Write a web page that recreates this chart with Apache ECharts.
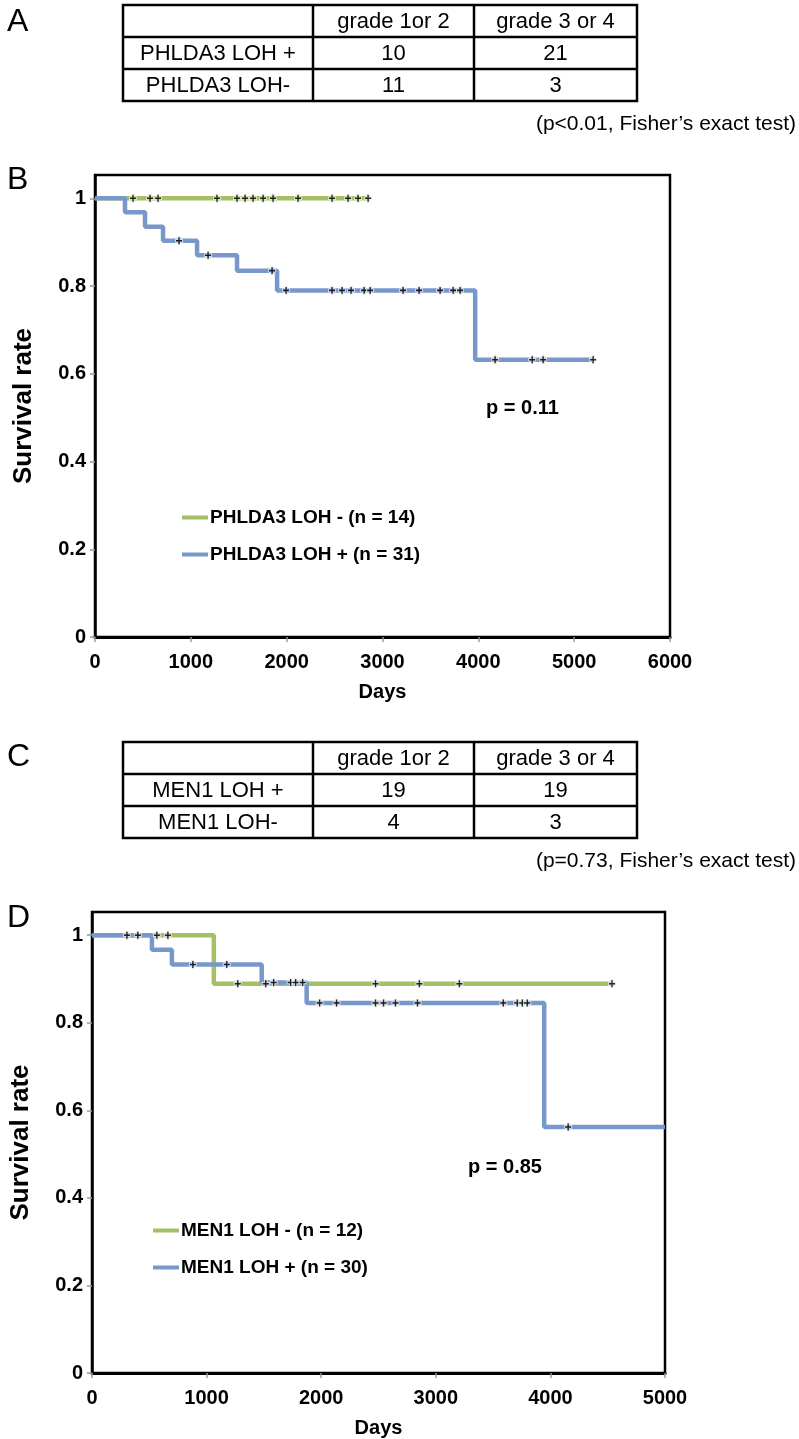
<!DOCTYPE html>
<html><head><meta charset="utf-8">
<script src="https://cdn.jsdelivr.net/npm/echarts@6/dist/echarts.min.js"></script>
<style>html,body{margin:0;padding:0;background:#fff}#c{width:799px;height:1439px}</style>
</head><body><div id="c"></div>
<script>
// ---------- data ----------
const tableAHeader = ['', 'grade 1or 2', 'grade 3 or 4'];
const tableARows = [['PHLDA3 LOH +', '10', '21'], ['PHLDA3 LOH-', '11', '3']];
const tableANote = '(p<0.01, Fisher\u2019s exact test)';
const tableCHeader = ['', 'grade 1or 2', 'grade 3 or 4'];
const tableCRows = [['MEN1 LOH +', '19', '19'], ['MEN1 LOH-', '4', '3']];
const tableCNote = '(p=0.73, Fisher\u2019s exact test)';

const bXTicks = [0, 1000, 2000, 3000, 4000, 5000, 6000];
const dXTicks = [0, 1000, 2000, 3000, 4000, 5000];
const yTicks = [0, 0.2, 0.4, 0.6, 0.8, 1];

const bMinusName = 'PHLDA3 LOH - (n = 14)';
const bMinusDays = [0, 2850];
const bMinusSurv = [1, 1];
const bMinusCensor = [397, 574, 658, 1273, 1482, 1566, 1649, 1754, 1858, 2119, 2474, 2641, 2745, 2850];

const bPlusName = 'PHLDA3 LOH + (n = 31)';
const bPlusDays = [0, 313, 522, 710, 1065, 1482, 1900, 3967, 5198];
const bPlusSurv = [1, 0.968, 0.935, 0.903, 0.870, 0.835, 0.790, 0.632, 0.632];
const bPlusCensor = [877, 1180, 1848, 1994, 2474, 2578, 2672, 2808, 2871, 3215, 3382, 3601, 3737, 3810, 4175, 4562, 4676, 5198];
const bPText = 'p = 0.11';

const dMinusName = 'MEN1 LOH - (n = 12)';
const dMinusDays = [0, 1063, 4538];
const dMinusSurv = [1, 0.889, 0.889];
const dMinusCensor = [566, 662, 1272, 1516, 2474, 2857, 3206, 4538];

const dPlusName = 'MEN1 LOH + (n = 30)';
const dPlusDays = [0, 523, 697, 1481, 1873, 3946, 5000];
const dPlusSurv = [1, 0.967, 0.933, 0.892, 0.845, 0.562, 0.562];
const dPlusCensor = [305, 400, 880, 1176, 1585, 1733, 1777, 1838, 1986, 2134, 2474, 2544, 2648, 2840, 3589, 3711, 3755, 3798, 4155];
const dPText = 'p = 0.85';

// ---------- style ----------
const FONT = '"Liberation Sans", Arial, Helvetica, sans-serif';
const GREEN = '#a3c065';
const BLUE = '#7898cb';

function pairs(xs, ys) { return xs.map((x, i) => [x, ys[i]]); }
function levelAt(days, surv, t) {
  let v = surv[0];
  for (let i = 0; i < days.length; i++) { if (days[i] <= t) v = surv[i]; }
  return v;
}
function censorPts(days, surv, cens) { return cens.map(t => [t, levelAt(days, surv, t)]); }

function tableGraphics(header, rows, note, top) {
  const cols = [123, 313, 474, 637];
  const rh = 32;
  const els = [];
  const all = [header].concat(rows);
  const bottom = top + rh * all.length;
  els.push({ type: 'rect', shape: { x: cols[0], y: top, width: cols[3] - cols[0], height: bottom - top },
    style: { fill: 'none', stroke: '#000', lineWidth: 2.5 } });
  for (let i = 1; i < all.length; i++) {
    els.push({ type: 'line', shape: { x1: cols[0], y1: top + rh * i, x2: cols[3], y2: top + rh * i }, style: { stroke: '#000', lineWidth: 2.5 } });
  }
  for (let j = 1; j < 3; j++) {
    els.push({ type: 'line', shape: { x1: cols[j], y1: top, x2: cols[j], y2: bottom }, style: { stroke: '#000', lineWidth: 2.5 } });
  }
  all.forEach((r, i) => r.forEach((t, j) => {
    if (!t) return;
    els.push({ type: 'text', x: (cols[j] + cols[j + 1]) / 2, y: top + rh * i + rh / 2 + 1,
      style: { text: t, font: '22px ' + FONT, fill: '#000', align: 'center', verticalAlign: 'middle' } });
  }));
  els.push({ type: 'text', x: 796, y: bottom + 23,
    style: { text: note, font: '21px ' + FONT, fill: '#000', align: 'right', verticalAlign: 'middle' } });
  return els;
}
function letter(t, y) {
  return { type: 'text', x: 7, y: y, style: { text: t, font: '32px ' + FONT, fill: '#000', verticalAlign: 'middle' } };
}

function xAxisCfg(gi, max, ticks) {
  return {
    gridIndex: gi, type: 'value', min: 0, max: max, interval: ticks[1] - ticks[0],
    name: 'Days', nameLocation: 'middle', nameGap: 45,
    nameTextStyle: { fontFamily: FONT, fontWeight: 'bold', fontSize: 20, color: '#000' },
    axisLine: { show: true, onZero: false, lineStyle: { color: '#000', width: 3 } },
    axisTick: { show: true, length: 5, lineStyle: { color: '#999', width: 1.5 } },
    axisLabel: { margin: 15, fontFamily: FONT, fontWeight: 'bold', fontSize: 20, color: '#000',
      formatter: v => String(v) },
    splitLine: { show: false }
  };
}
function yAxisCfg(gi) {
  return {
    gridIndex: gi, type: 'value', min: 0, max: 1.053, interval: yTicks[1] - yTicks[0],
    name: 'Survival rate', nameLocation: 'middle', nameGap: 58, nameRotate: 90,
    nameTextStyle: { fontFamily: FONT, fontWeight: 'bold', fontSize: 26, color: '#000' },
    axisLine: { show: true, onZero: false, lineStyle: { color: '#000', width: 2.5 } },
    axisTick: { show: true, length: 5, lineStyle: { color: '#999', width: 1.5 } },
    axisLabel: { margin: 9, showMaxLabel: false, fontFamily: FONT, fontWeight: 'bold', fontSize: 20, color: '#000',
      formatter: v => (yTicks.indexOf(Math.round(v * 10) / 10) >= 0 ? String(Math.round(v * 10) / 10) : '') },
    splitLine: { show: false }
  };
}
function stepSeries(name, gi, days, surv, color) {
  return { name: name, type: 'line', step: 'end', xAxisIndex: gi, yAxisIndex: gi,
    data: pairs(days, surv), showSymbol: false, symbol: 'none', lineStyle: { color: color, width: 4.5 },
    itemStyle: { color: color }, animation: false, z: 2 };
}
function censorSeries(gi, days, surv, cens) {
  return { type: 'scatter', xAxisIndex: gi, yAxisIndex: gi, data: censorPts(days, surv, cens),
    symbol: 'path://M-1,-3H1V-1H3V1H1V3H-1V1H-3V-1H-1Z', symbolSize: [7, 8],
    itemStyle: { color: '#000', borderColor: '#fff', borderWidth: 1 },
    animation: false, z: 5, silent: true };
}
function legendCfg(names, colors, top, left) {
  return { data: names.map((n, i) => ({ name: n, icon: 'rect', itemStyle: { color: colors[i] } })),
    orient: 'vertical', left: left, top: top, itemWidth: 26, itemHeight: 4, itemGap: 18,
    selectedMode: false,
    textStyle: { fontFamily: FONT, fontWeight: 'bold', fontSize: 19, color: '#000', padding: [0, 0, 0, -3] } };
}

const chart = echarts.init(document.getElementById('c'), null, { renderer: 'canvas' });
chart.setOption({
  backgroundColor: '#fff',
  animation: false,
  grid: [
    { left: 95, top: 175, width: 575, height: 462, show: true, borderColor: '#000', borderWidth: 2.5 },
    { left: 91, top: 912, width: 574, height: 461, show: true, borderColor: '#000', borderWidth: 2.5 }
  ],
  xAxis: [xAxisCfg(0, 6000, bXTicks), xAxisCfg(1, 5000, dXTicks)],
  yAxis: [yAxisCfg(0), yAxisCfg(1)],
  legend: [
    legendCfg([bMinusName, bPlusName], [GREEN, BLUE], 503, 177),
    legendCfg([dMinusName, dPlusName], [GREEN, BLUE], 1216, 148)
  ],
  series: [
    stepSeries(bMinusName, 0, bMinusDays, bMinusSurv, GREEN),
    stepSeries(bPlusName, 0, bPlusDays, bPlusSurv, BLUE),
    censorSeries(0, bMinusDays, bMinusSurv, bMinusCensor),
    censorSeries(0, bPlusDays, bPlusSurv, bPlusCensor),
    stepSeries(dMinusName, 1, dMinusDays, dMinusSurv, GREEN),
    stepSeries(dPlusName, 1, dPlusDays, dPlusSurv, BLUE),
    censorSeries(1, dMinusDays, dMinusSurv, dMinusCensor),
    censorSeries(1, dPlusDays, dPlusSurv, dPlusCensor)
  ],
  graphic: [].concat(
    tableGraphics(tableAHeader, tableARows, tableANote, 5),
    tableGraphics(tableCHeader, tableCRows, tableCNote, 742),
    [letter('A', 22), letter('B', 180), letter('C', 757), letter('D', 918),
     { type: 'text', x: 486, y: 408, style: { text: bPText, font: 'bold 20px ' + FONT, fill: '#000', verticalAlign: 'middle' } },
     { type: 'text', x: 468, y: 1167, style: { text: dPText, font: 'bold 20px ' + FONT, fill: '#000', verticalAlign: 'middle' } }]
  )
});
</script></body></html>
